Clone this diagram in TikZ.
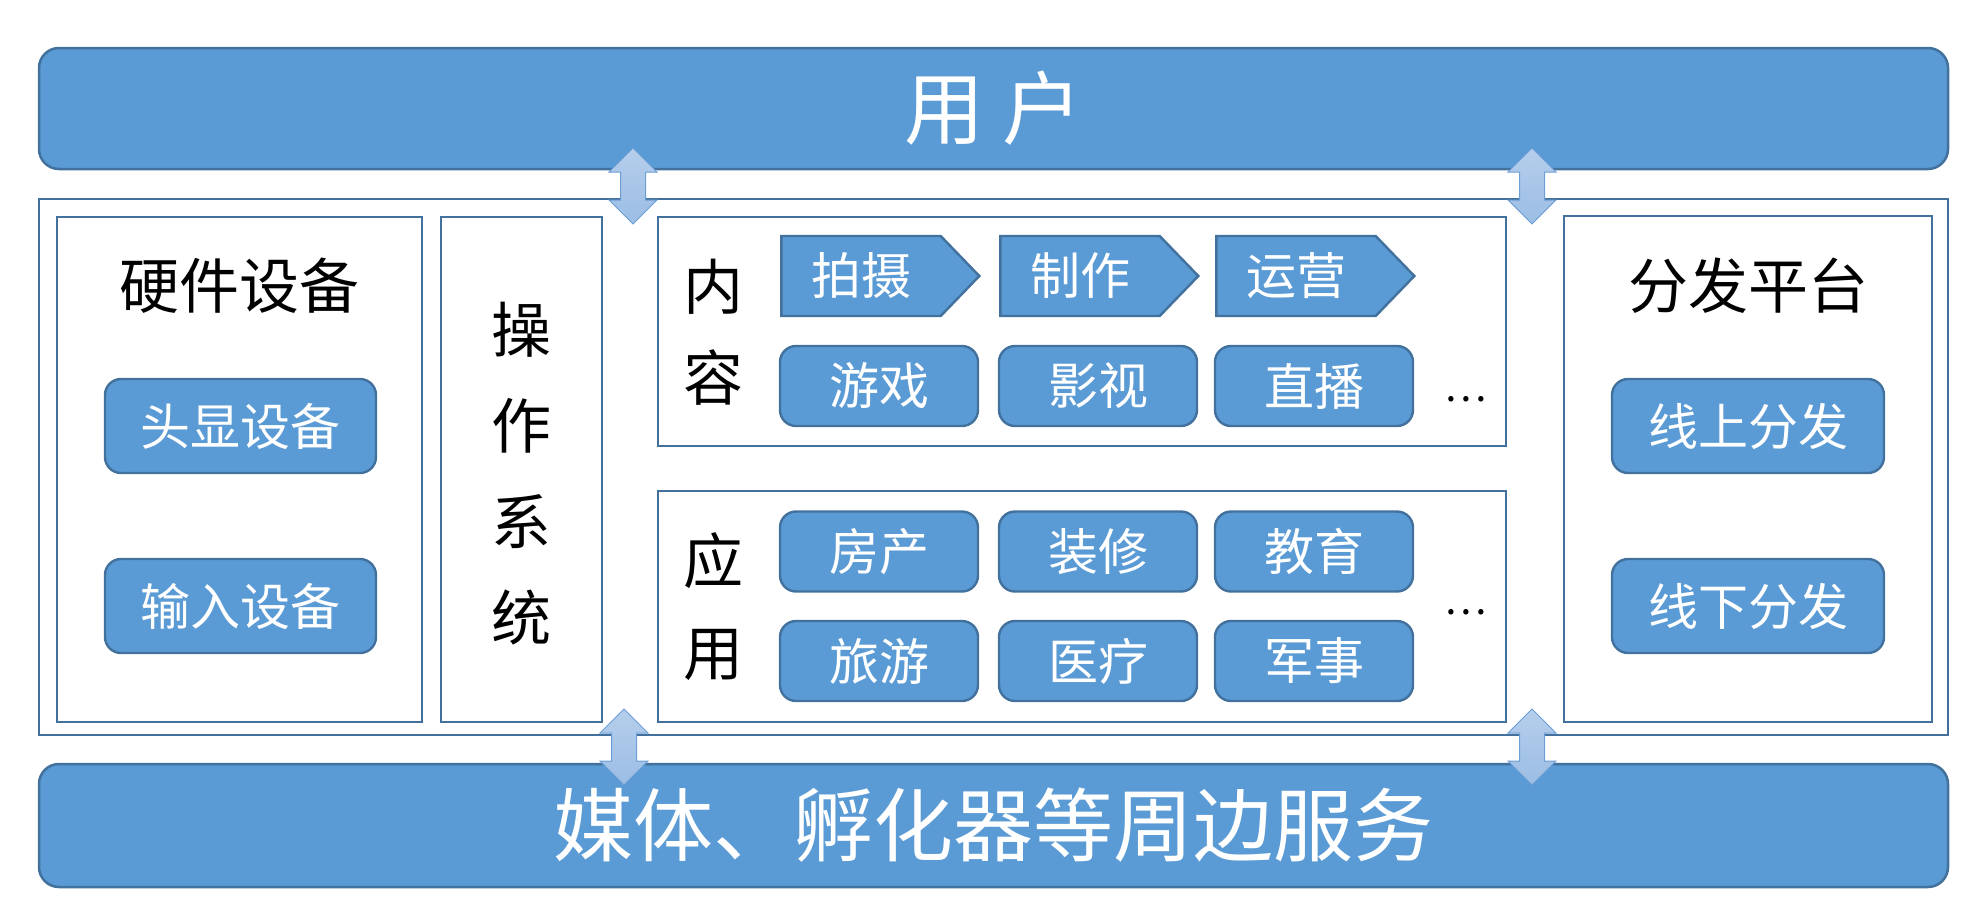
\documentclass[tikz,border=0pt]{standalone}
\usepackage{fontspec}
\setmainfont{Noto Sans CJK SC}
\usetikzlibrary{shapes.symbols}
\definecolor{ppblue}{RGB}{91,155,213}
\definecolor{ppedge}{RGB}{65,113,156}
\definecolor{arrowtop}{RGB}{182,206,236}
\definecolor{arrowbot}{RGB}{155,189,228}
\definecolor{arrowedge}{RGB}{108,158,214}

\begin{document}
\begin{tikzpicture}[x=1pt, y=-1pt,
  bar/.style={
    rectangle, rounded corners=20pt,
    fill=ppblue, draw=ppedge, line width=2.5pt,
    minimum width=1909pt, inner sep=2pt,
    text=white, font=\fontsize{80}{96}\selectfont
  },
  panel/.style={rectangle, draw=ppedge, line width=2.8pt, inner sep=0pt},
  btn/.style={
    rectangle, rounded corners=16pt,
    fill=ppblue, draw=ppedge, line width=2.4pt,
    inner sep=2pt, text=white, font=\fontsize{50}{60}\selectfont
  },
  cell/.style={btn, minimum width=198pt, minimum height=80pt},
  chev/.style={
    signal, signal to=east, signal pointer angle=92,
    fill=ppblue, draw=ppedge, line width=2.4pt,
    minimum width=198pt, minimum height=80pt, inner sep=2pt,
    text=white, font=\fontsize{50}{60}\selectfont
  },
  title/.style={inner sep=0pt, font=\fontsize{60}{96}\selectfont},
  more/.style={inner sep=0pt, font=\fontsize{40}{48}\selectfont},
  dualarrow/.style={top color=arrowtop, bottom color=arrowbot, draw=arrowedge, line width=1pt}
]
  \useasboundingbox (0,0) rectangle (1976,919);

  % user and service bars
  \node[bar, minimum height=121pt] (user) at (993.5,108.5) {用 户};
  \node[bar, minimum height=123pt] (service) at (993.5,825.5) {媒体、孵化器等周边服务};

  % platform frame and panels
  \node[panel, minimum width=1909pt, minimum height=536pt] (platform) at (993.5,467) {};
  \node[panel, minimum width=365pt, minimum height=505pt] (hw) at (239.5,469.5) {};
  \node[panel, minimum width=161pt, minimum height=505pt] (os) at (521.5,469.5) {};
  \node[panel, minimum width=848pt, minimum height=229pt] (content) at (1082,331.5) {};
  \node[panel, minimum width=848pt, minimum height=231pt] (app) at (1082,606.5) {};
  \node[panel, minimum width=368pt, minimum height=506pt] (dist) at (1748,469) {};

  % hardware
  \node[title] (hwtitle) at (239.5,286) {硬件设备};
  \node[btn, minimum width=271pt, minimum height=94pt] (hmd) at (240.5,426) {头显设备};
  \node[btn, minimum width=271pt, minimum height=94pt] (input) at (240.5,606) {输入设备};

  % operating system
  \node[title, align=center] (ostext) at (521.5,474) {操\\作\\系\\统};

  % content
  \node[title] (nei) at (713,287) {内};
  \node[title] (rong) at (713,378) {容};
  \node[chev] (shoot) at (861,276) {拍摄};
  \node[chev] (make) at (1080,276) {制作};
  \node[chev] (oper) at (1296,276) {运营};
  \node[cell] (game) at (879,386) {游戏};
  \node[cell] (film) at (1098,386) {影视};
  \node[cell] (live) at (1314,386) {直播};
  \node[more] (cmore) at (1466,399) {…};

  % applications
  \node[title] (ying) at (713,561) {应};
  \node[title] (yong) at (713,655) {用};
  \node[cell] (estate) at (879,551.5) {房产};
  \node[cell] (decor) at (1098,551.5) {装修};
  \node[cell] (edu) at (1314,551.5) {教育};
  \node[cell] (travel) at (879,661) {旅游};
  \node[cell] (medic) at (1098,661) {医疗};
  \node[cell] (army) at (1314,661) {军事};
  \node[more] (amore) at (1466,612) {…};

  % distribution
  \node[title] (disttitle) at (1748,286) {分发平台};
  \node[btn, minimum width=272pt, minimum height=94pt] (online) at (1748,426) {线上分发};
  \node[btn, minimum width=272pt, minimum height=94pt] (offline) at (1748,606) {线下分发};

  % double arrows between layers
  \foreach \ax/\ay in {633/148, 1532/148, 624/709, 1532/709}
    \draw[dualarrow] (\ax,\ay) -- ++(24,24) -- ++(-11.5,0) -- ++(0,28) -- ++(11.5,0)
      -- ++(-24,24) -- ++(-24,-24) -- ++(11.5,0) -- ++(0,-28) -- ++(-11.5,0) -- cycle;
\end{tikzpicture}
\end{document}
